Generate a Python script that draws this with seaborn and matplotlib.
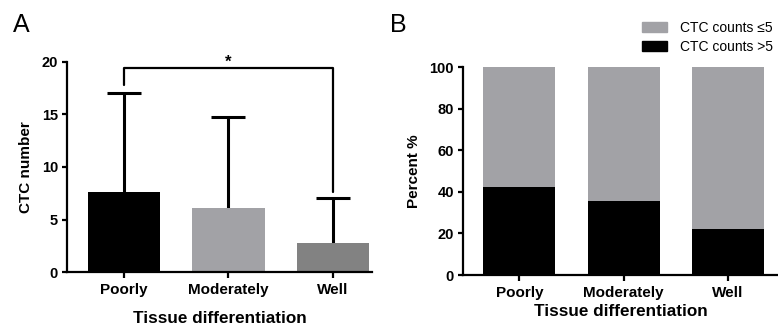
import matplotlib
matplotlib.use("Agg")
import matplotlib.pyplot as plt
import matplotlib.patches as mpatches
import numpy as np
import pandas as pd
import seaborn as sns

# data
categories = ["Poorly", "Moderately", "Well"]
ctc_mean = [7.6, 6.1, 2.75]
ctc_sd = [9.4, 8.65, 4.3]
bar_colors_a = ["#000000", "#a2a2a6", "#828282"]

pct_high = [42.2, 35.5, 22.2]          # CTC counts >5
pct_low = [100 - v for v in pct_high]  # CTC counts <=5
legend_labels = ["CTC counts \u22645", "CTC counts >5"]

sns.set_theme(style="ticks")
plt.rcParams["font.family"] = ["Liberation Sans", "DejaVu Sans"]
plt.rcParams["axes.linewidth"] = 1.6
plt.rcParams["axes.edgecolor"] = "black"
plt.rcParams["axes.labelcolor"] = "black"
plt.rcParams["text.color"] = "black"
plt.rcParams["xtick.color"] = "black"
plt.rcParams["ytick.color"] = "black"
plt.rcParams["xtick.major.width"] = 1.6
plt.rcParams["ytick.major.width"] = 1.6
plt.rcParams["xtick.major.size"] = 4
plt.rcParams["ytick.major.size"] = 3.5

fig = plt.figure(figsize=(7.78, 3.29), dpi=100)
ax_a = fig.add_axes([0.0861, 0.173, 0.392, 0.639])
ax_b = fig.add_axes([0.595, 0.164, 0.405, 0.632])

# ---- panel A ----
df_a = pd.DataFrame({"group": categories, "ctc": ctc_mean})
pos = np.arange(len(categories))
_, caps, _ = ax_a.errorbar(pos, ctc_mean, yerr=[np.zeros(len(ctc_sd)), ctc_sd],
                           fmt="none", ecolor="black", elinewidth=2.2,
                           capsize=12, capthick=2.2, zorder=1)
caps[0].set_visible(False)  # only the upper caps
sns.barplot(data=df_a, x="group", y="ctc", hue="group", palette=bar_colors_a,
            width=0.69, saturation=1, linewidth=0, legend=False, ax=ax_a, zorder=2)
ax_a.set_xlim(-0.545, 2.373)
ax_a.set_ylim(0, 20)
ax_a.set_yticks([0, 5, 10, 15, 20])
ax_a.set_ylabel("CTC number", fontsize=11, fontweight="bold", labelpad=6)
ax_a.set_xlabel("Tissue differentiation", fontsize=12.3, fontweight="bold", labelpad=10)

# significance bracket Poorly vs Well
ax_a.plot([0, 0, 2, 2], [17.8, 19.4, 19.4, 7.6], color="black", lw=1.6,
          clip_on=False, zorder=3)
ax_a.text(1, 19.2, "*", ha="center", va="bottom", fontsize=12, fontweight="bold")

# ---- panel B ----
df_b = pd.DataFrame({"group": categories, "low": [100] * 3, "high": pct_high})
sns.barplot(data=df_b, x="group", y="low", color="#a2a2a6", width=0.69,
            saturation=1, linewidth=0, ax=ax_b)
sns.barplot(data=df_b, x="group", y="high", color="#000000", width=0.69,
            saturation=1, linewidth=0, ax=ax_b)
ax_b.set_xlim(-0.542, 2.48)
ax_b.set_ylim(0, 100)
ax_b.set_yticks([0, 20, 40, 60, 80, 100])
ax_b.set_ylabel("Percent %", fontsize=11, fontweight="bold", labelpad=6)
ax_b.set_xlabel("Tissue differentiation", fontsize=12.3, fontweight="bold", labelpad=3)

for ax in (ax_a, ax_b):
    sns.despine(ax=ax)
    for lab in ax.get_xticklabels() + ax.get_yticklabels():
        lab.set_fontweight("bold")
    ax.tick_params(axis="x", labelsize=11, pad=4)
    ax.tick_params(axis="y", labelsize=10.5, pad=3)

handles = [mpatches.Patch(color="#a2a2a6"), mpatches.Patch(color="#000000")]
fig.legend(handles, legend_labels, loc="upper left",
           bbox_to_anchor=(642 / 778, 1 - 21 / 329), frameon=False,
           fontsize=10, handlelength=1.8, handleheight=0.7, handletextpad=0.9,
           labelspacing=0.35, borderpad=0, borderaxespad=0)

fig.text(13 / 778, 1 - 13 / 329, "A", fontsize=18, va="top", ha="left")
fig.text(390 / 778, 1 - 13 / 329, "B", fontsize=18, va="top", ha="left")

fig.savefig("out.png", dpi=100)
